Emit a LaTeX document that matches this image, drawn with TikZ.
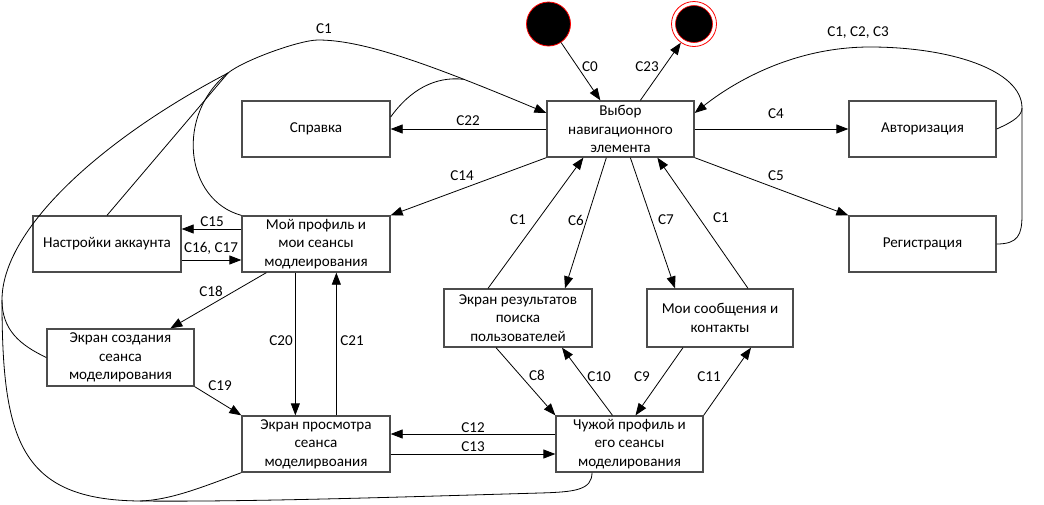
\documentclass[tikz,border=0pt]{standalone}
\usepackage{fontspec}
\setmainfont{Carlito}
\usetikzlibrary{arrows.meta}
\newcommand{\boxfont}{\fontsize{15.1}{18.5}\selectfont}
\begin{document}
\begin{tikzpicture}[x=1pt,y=-1pt,
  statebox/.style={draw=black!70, line width=1.3pt, minimum width=147pt, minimum height=56pt,
     align=center, inner sep=0pt, font=\boxfont},
  lbl/.style={inner sep=0pt, font=\boxfont},
  ln/.style={line width=0.8pt},
  arr/.style={line width=0.8pt, -{Triangle[length=12pt,width=9pt]}}]
\useasboundingbox (0,0) rectangle (1044,504);

% initial / final
\node[circle, fill=black, draw=red, line width=0.8pt, minimum size=44pt, inner sep=0pt] (start) at (548.5,24) {};
\node[circle, draw=red, line width=0.8pt, minimum size=45pt, inner sep=0pt] (end) at (694,24) {};
\node[circle, fill=black, draw=red, line width=0.6pt, minimum size=37pt, inner sep=0pt] (endin) at (694,24) {};

% boxes
\node[statebox] (vybor) at (620.5,129) {Выбор\\навигационного\\элемента};
\node[statebox, minimum width=148pt] (sprav) at (316,129) {Справка};
\node[statebox] (avt) at (922.5,129) {Авторизация};
\node[statebox] (reg) at (922.5,244) {Регистрация};
\node[statebox, minimum width=148pt] (moy) at (316,244) {Мой профиль и\\мои сеансы\\модлеирования};
\node[statebox, minimum width=148pt] (nastr) at (107,244) {Настройки аккаунта};
\node[statebox, minimum height=57pt] (sozd) at (120.5,357.5) {Экран создания\\сеанса\\моделирования};
\node[statebox, minimum width=148pt] (prosm) at (316,444) {Экран просмотра\\сеанса\\моделирвоания};
\node[statebox, minimum width=148pt, minimum height=58pt] (rez) at (518,318) {Экран результатов\\поиска\\пользователей};
\node[statebox, minimum width=146pt, minimum height=58pt] (soob) at (720,318) {Мои сообщения и\\контакты};
\node[statebox] (chuzh) at (629.5,444) {Чужой профиль и\\его сеансы\\моделирования};

% junction coordinates
\coordinate (J) at (228,73);
\coordinate (B) at (140,501);
\coordinate (L) at (2,300);
\coordinate (K) at (1022,108);
\coordinate (S) at (463.6,79.3);

% top connectors
\draw[arr] (start) -- ([xshift=54pt]vybor.north west);
\draw[arr] ([xshift=94pt]vybor.north west) -- (end);
\draw[arr] (vybor.west) -- (sprav.east);
\draw[arr] (vybor.east) -- (avt.west);
\draw[arr] (vybor.south east) -- (reg.north west);
\draw[arr] (vybor.south west) -- (moy.north east);

% C1, C2, C3 return
\draw[ln] (reg.east) .. controls (1018,244) and (1022,235) .. (1022,215) -- (K);
\draw[ln] (avt.east) .. controls (1015,121) and (1022,115) .. (K);
\draw[arr] (K) .. controls (1022,70) and (950,47) .. (870,47) .. controls (790,47) and (730,85) .. ([yshift=16pt]vybor.east);

% middle fan
\draw[arr] ([xshift=-30pt]rez.north) -- ([xshift=37pt]vybor.south west);
\draw[arr] ([xshift=60pt]vybor.south west) -- ([xshift=47pt]rez.north);
\draw[arr] ([xshift=84pt]vybor.south west) -- ([xshift=-45pt]soob.north);
\draw[arr] ([xshift=28pt]soob.north) -- ([xshift=111pt]vybor.south west);

\draw[arr] ([xshift=-22pt]rez.south) -- (chuzh.north west);
\draw[arr] ([xshift=-17pt]chuzh.north) -- ([xshift=44pt]rez.south);
\draw[arr] ([xshift=-37pt]soob.south) -- ([xshift=6pt]chuzh.north);
\draw[arr] (chuzh.north east) -- ([xshift=31pt]soob.south);

\draw[arr] ([yshift=10pt]chuzh.west) -- ([yshift=10pt]prosm.east);
\draw[arr] ([yshift=-10pt]prosm.east) -- ([yshift=-10pt]chuzh.west);

% left side
\draw[arr] ([yshift=15pt]moy.west) -- ([yshift=15pt]nastr.east);
\draw[arr] ([yshift=-16pt]nastr.east) -- ([yshift=-16pt]moy.west);
\draw[arr] ([xshift=25pt]moy.south west) -- ([xshift=124pt]sozd.north west);
\draw[arr] ([xshift=54pt]moy.south west) -- ([xshift=54pt]prosm.north west);
\draw[arr] ([xshift=95pt]prosm.north west) -- ([xshift=95pt]moy.south west);
\draw[arr] (sozd.south east) -- (prosm.north west);

% big C1 family
\draw[arr] (J) .. controls (244,60) and (300,40) .. (318,40) .. controls (360,40) and (420,60) .. ([yshift=16pt]vybor.west);
\draw[ln] ([yshift=12pt]sprav.east) .. controls (410,90) and (435,76) .. (S);
\draw[ln] (moy.north west) .. controls (185,200) and (175,115) .. (J);
\draw[ln] (nastr.north) -- (J);
\draw[ln] ([xshift=-37.5pt]chuzh.south) .. controls (592,490) and (575,492) .. (540,493)
   .. controls (400,497) and (250,502) .. (B)
   .. controls (20,500) and (2,440) .. (L)
   .. controls (2,230) and (100,140) .. (J);
\draw[ln] (prosm.south west) .. controls (200,488) and (170,500) .. (B);
\draw[ln] (sozd.west) .. controls (20,345) and (2,330) .. (L);

% labels
\node[lbl] (l0) at (590,67) {C0};
\node[lbl] (l23) at (647,67) {C23};
\node[lbl] (l22) at (468,121) {C22};
\node[lbl] (l4) at (776,114) {C4};
\node[lbl] (l5) at (776,176) {C5};
\node[lbl] (l123) at (858,33) {C1, C2, C3};
\node[lbl] (l1a) at (324,29) {C1};
\node[lbl] (l14) at (462,176) {C14};
\node[lbl] (l1b) at (518,220) {C1};
\node[lbl] (l6) at (576,220) {C6};
\node[lbl] (l7) at (666,220) {C7};
\node[lbl] (l1c) at (721,218) {C1};
\node[lbl] (l15) at (212,222) {C15};
\node[lbl] (l1617) at (211,248) {C16, C17};
\node[lbl] (l18) at (211,291) {C18};
\node[lbl] (l20) at (281,341) {C20};
\node[lbl] (l21) at (352,341) {C21};
\node[lbl] (l19) at (220,386) {C19};
\node[lbl] (l12) at (473,428) {C12};
\node[lbl] (l13) at (473,447) {C13};
\node[lbl] (l8) at (537,375) {C8};
\node[lbl] (l10) at (599,377) {C10};
\node[lbl] (l9) at (642,377) {C9};
\node[lbl] (l11) at (709,377) {C11};
\end{tikzpicture}
\end{document}
